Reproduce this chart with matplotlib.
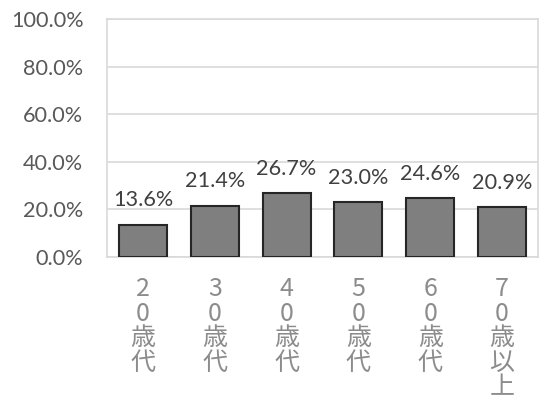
import matplotlib
matplotlib.use("Agg")
import matplotlib.pyplot as plt
from matplotlib.ticker import FuncFormatter

plt.rcParams['font.family'] = ['Lato', 'Noto Sans CJK JP', 'DejaVu Sans']

categories = ["20歳代", "30歳代", "40歳代", "50歳代", "60歳代", "70歳以上"]
values = [13.6, 21.4, 26.7, 23.0, 24.6, 20.9]
yticks = [0, 20, 40, 60, 80, 100]

fig = plt.figure(figsize=(5.40, 3.99), dpi=100)
ax = fig.add_axes([107/540, 1 - 257/399, (538-107)/540, (257-19)/399])

x = list(range(len(categories)))
ax.bar(x, values, width=0.67, color='#7f7f7f', edgecolor='#262626', linewidth=1.5, zorder=3)

for xi, v in zip(x, values):
    ax.annotate(f"{v:.1f}%", (xi, v), xytext=(0, 13.5), textcoords='offset points',
                ha='center', va='baseline', fontsize=15.6, color='#404040')

ax.set_xlim(-0.5, len(categories) - 0.5)
ax.set_ylim(0, 100)
ax.set_yticks(yticks)
ax.yaxis.set_major_formatter(FuncFormatter(lambda v, p: f"{v:.1f}%"))
ax.grid(axis='y', color='#d9d9d9', linewidth=1.2, zorder=0)
for s in ax.spines.values():
    s.set_color('#d9d9d9')
    s.set_linewidth(1.2)
ax.tick_params(axis='y', length=0, pad=17, labelsize=15.6, labelcolor='#595959')
ax.tick_params(axis='x', length=0, pad=14)
ax.set_xticks(x)
ax.set_xticklabels(["\n".join(c) for c in categories], fontsize=18, color='#8c8c8c',
                   linespacing=0.92, va='top', family=['Noto Sans CJK JP', 'DejaVu Sans'])

fig.savefig("out.png", dpi=100)
